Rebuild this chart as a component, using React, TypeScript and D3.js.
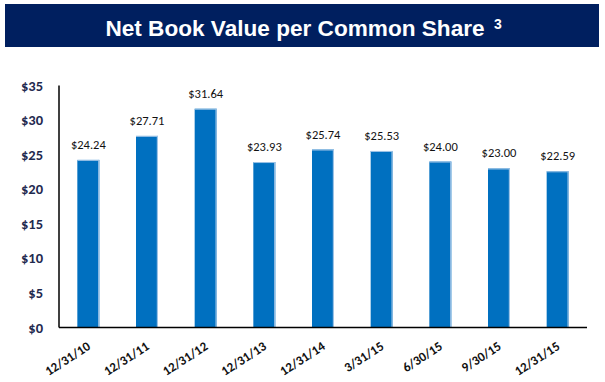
import React from "react";
import * as d3 from "d3";

const categories = ["12/31/10", "12/31/11", "12/31/12", "12/31/13", "12/31/14", "3/31/15", "6/30/15", "9/30/15", "12/31/15"];
const values = [24.24, 27.71, 31.64, 23.93, 25.74, 25.53, 24.0, 23.0, 22.59];
const yTicks = [0, 5, 10, 15, 20, 25, 30, 35];
const title = "Net Book Value per Common Share";
const footnote = "3";

const W = 605;
const H = 382;
const left = 59;
const right = 587;
const top = 85.5;
const bottom = 327.5;
const font = "Carlito, Calibri, Lato, 'Open Sans', sans-serif";

export default function App() {
  const x = d3.scaleBand<string>().domain(categories).range([left, right]).paddingInner(0.625).paddingOuter(0.3125);
  const y = d3.scaleLinear().domain([0, 35]).range([bottom, top]);
  const bw = x.bandwidth();
  return (
    <svg width={W} height={H} style={{ position: "absolute", left: 0, top: 0, background: "#fff" }}>
      <rect x={5} y={4} width={594} height={43} fill="#001F5F" />
      <text x={295} y={36} textAnchor="middle" fill="#fff" fontFamily="Liberation Sans, Arial, sans-serif" fontWeight="bold" fontSize={22.6}>
        {title}
      </text>
      <text x={494} y={29} fill="#fff" fontFamily="Liberation Sans, Arial, sans-serif" fontWeight="bold" fontSize={14}>
        {footnote}
      </text>
      {values.map((v, i) => {
        const cx = x(categories[i])!;
        return (
          <g key={i}>
            <rect x={cx} y={y(v)} width={bw} height={bottom - y(v)} fill="#0070C0" />
            <rect x={cx + bw - 1.2} y={y(v)} width={1.2} height={bottom - y(v)} fill="#9DC3E6" />
            <rect x={cx} y={y(v)} width={bw} height={1} fill="#9DC3E6" />
            <text x={cx + bw / 2} y={y(v) - 11} textAnchor="middle" fontFamily={font} fontSize={12.5} fill="#111">
              {"$" + v.toFixed(2)}
            </text>
            <text
              transform={`translate(${cx + bw / 2 + 3},${bottom + 21}) rotate(-33)`}
              textAnchor="end"
              fontFamily={font}
              fontWeight="bold"
              fontSize={13}
              fill="#111"
            >
              {categories[i]}
            </text>
          </g>
        );
      })}
      {yTicks.map((t) => (
        <text key={t} x={43} y={y(t)} dy="0.35em" textAnchor="end" fontFamily={font} fontWeight="bold" fontSize={14.5} fill="#1F2A4F">
          {"$" + t}
        </text>
      ))}
      <line x1={left} x2={left} y1={top} y2={bottom} stroke="#000" strokeWidth={1.5} />
      <line x1={left} x2={right} y1={bottom} y2={bottom} stroke="#000" strokeWidth={1.5} />
    </svg>
  );
}
